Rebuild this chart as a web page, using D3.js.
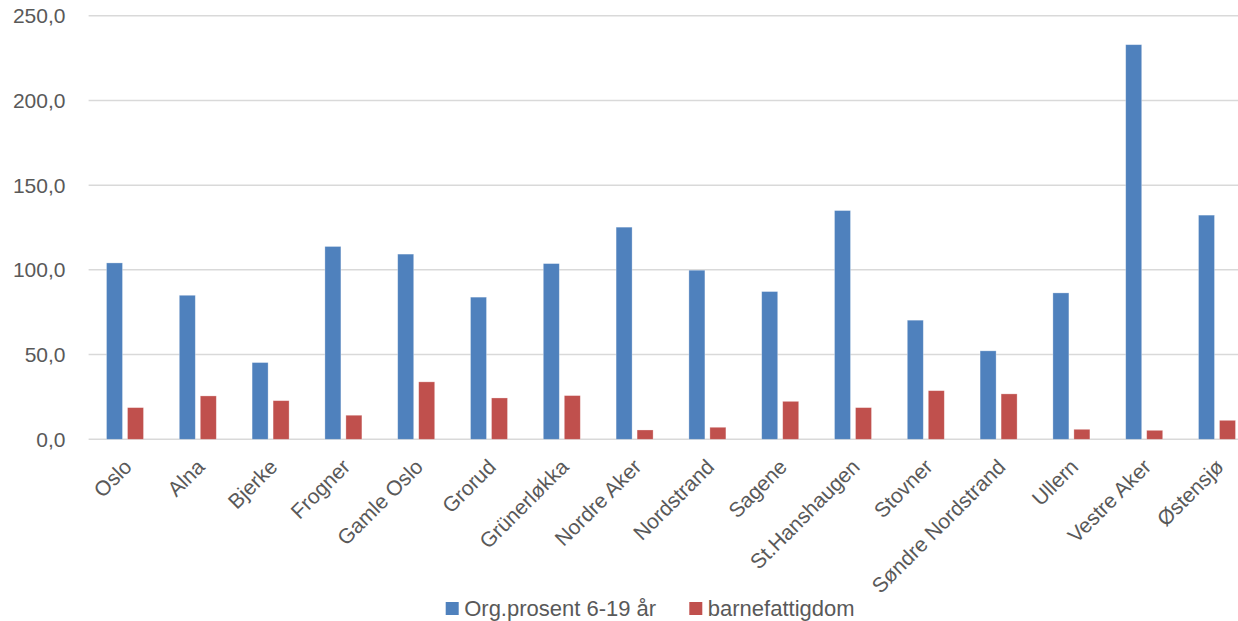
<!DOCTYPE html>
<html>
<head>
<meta charset="utf-8">
<script src="https://cdn.jsdelivr.net/npm/d3@7"></script>
<style>
  body { margin: 0; background: #fff; }
  svg text { font-family: "Liberation Sans", Arial, sans-serif; fill: #595959; }
</style>
</head>
<body>
<div id="chart-area"></div>
<script>
// bydeler
let categories = ["Oslo", "Alna", "Bjerke", "Frogner", "Gamle Oslo", "Grorud", "Grünerløkka",
  "Nordre Aker", "Nordstrand", "Sagene", "St.Hanshaugen", "Stovner", "Søndre Nordstrand",
  "Ullern", "Vestre Aker", "Østensjø"];
let seriesNames = ["Org.prosent 6-19 år", "barnefattigdom"];
let orgProsent = [104.1, 85.0, 45.3, 113.8, 109.3, 83.9, 103.7, 125.2, 99.8, 87.2, 135.0, 70.3, 52.2, 86.4, 232.9, 132.3];
let barnefattigdom = [18.7, 25.6, 22.8, 14.2, 33.9, 24.4, 25.8, 5.5, 7.1, 22.4, 18.7, 28.7, 26.8, 5.9, 5.3, 11.2];
let yTicks = [0, 50, 100, 150, 200, 250];
let colors = ["#4F81BD", "#C0504D"];

let width = 1238, height = 621;

let svg = d3.select("#chart-area")
  .append("svg")
  .attr("width", width)
  .attr("height", height);

let x0 = d3.scaleBand()
  .domain(categories)
  .range([88.6, 1253.4]);

let x1 = d3.scaleBand()
  .domain([0, 1])
  .range([x0.bandwidth() / 2 - 18.5, x0.bandwidth() / 2 + 18.5])
  .paddingInner(5 / 21);

let y = d3.scaleLinear()
  .domain([0, 250])
  .range([439.3, 15.7]);

let no = d3.formatLocale({ decimal: ",", thousands: " ", grouping: [3], currency: ["", " kr"] });
let fmt = no.format(".1f");

// gridlines
svg.append("g")
  .selectAll("line")
  .data(yTicks)
  .enter()
  .append("line")
  .attr("x1", 88.6)
  .attr("x2", width)
  .attr("y1", d => y(d))
  .attr("y2", d => y(d))
  .attr("stroke", "#D9D9D9")
  .attr("stroke-width", 1.5);

// y labels
svg.append("g")
  .selectAll("text")
  .data(yTicks)
  .enter()
  .append("text")
  .attr("x", 65.5)
  .attr("y", d => y(d))
  .attr("dy", "0.36em")
  .attr("text-anchor", "end")
  .style("font-size", "21px")
  .text(d => fmt(d));

// bars
let rows = categories.map((c, i) => ({ cat: c, vals: [orgProsent[i], barnefattigdom[i]] }));

let groups = svg.append("g")
  .selectAll("g")
  .data(rows)
  .enter()
  .append("g")
  .attr("transform", d => "translate(" + x0(d.cat) + ",0)");

groups.selectAll("rect")
  .data(d => d.vals.map((v, k) => ({ k: k, v: v })))
  .enter()
  .append("rect")
  .attr("x", d => x1(d.k))
  .attr("width", x1.bandwidth())
  .attr("y", d => y(d.v))
  .attr("height", d => y(0) - y(d.v))
  .attr("fill", d => colors[d.k])
  .attr("stroke", "#ffffff")
  .attr("stroke-opacity", 0.4)
  .attr("stroke-width", 0.75);

// x labels
svg.append("g")
  .selectAll("text")
  .data(categories)
  .enter()
  .append("text")
  .attr("transform", d => "translate(" + (x0(d) + x0.bandwidth() / 2 - 3) + ",457) rotate(-45)")
  .attr("text-anchor", "end")
  .attr("dy", "0.75em")
  .style("font-size", "21px")
  .text(d => d);

// legend
let legendX = [445.7, 689.3];
let legend = svg.append("g")
  .selectAll("g")
  .data(seriesNames)
  .enter()
  .append("g")
  .attr("transform", (d, i) => "translate(" + legendX[i] + ",602)");

legend.append("rect")
  .attr("width", 13)
  .attr("height", 13)
  .attr("fill", (d, i) => colors[i]);

legend.append("text")
  .attr("x", 18.5)
  .attr("y", 6.5)
  .attr("dy", "0.36em")
  .style("font-size", "22px")
  .text(d => d);
</script>
</body>
</html>
